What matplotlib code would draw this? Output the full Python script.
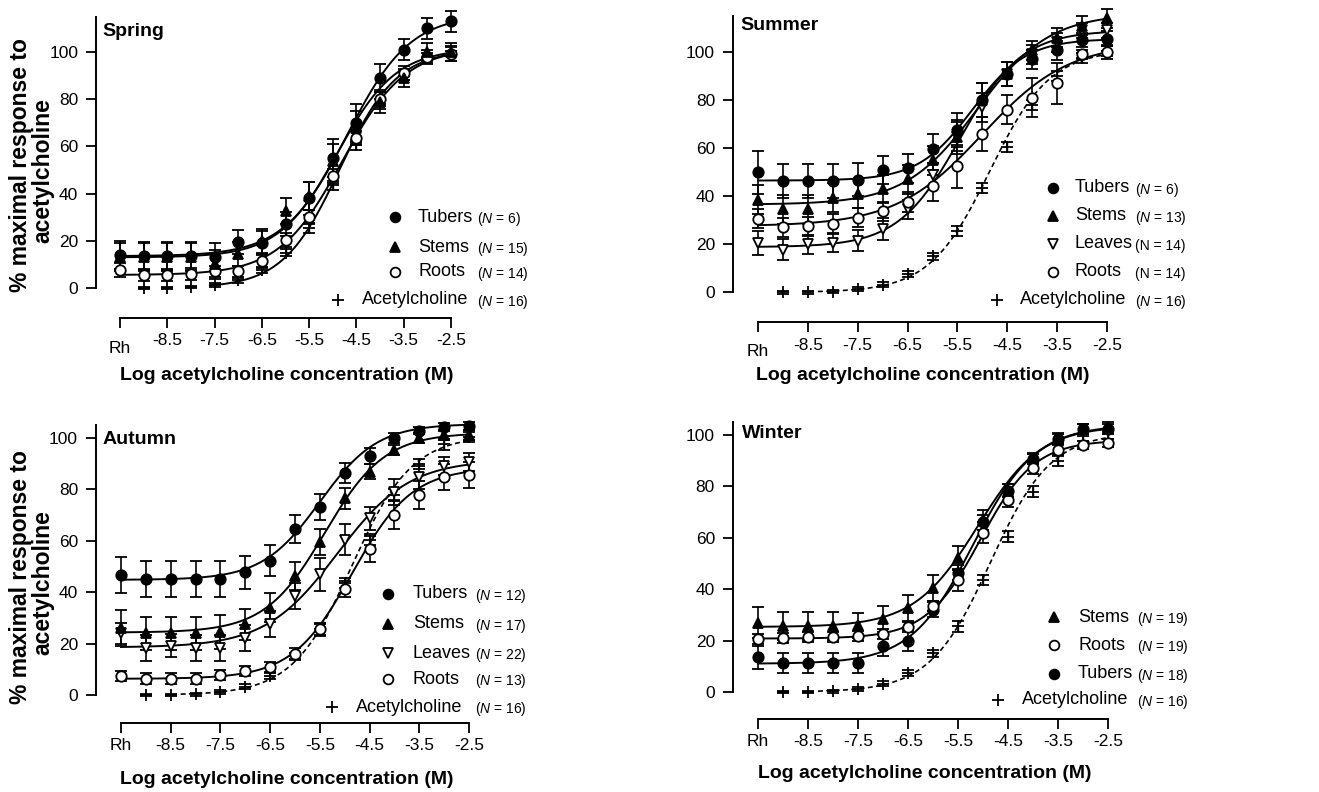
import numpy as np
import matplotlib
matplotlib.use("Agg")
import matplotlib.pyplot as plt
import matplotlib.transforms as mtransforms
from matplotlib.lines import Line2D
from matplotlib import font_manager

installed = {f.name for f in font_manager.fontManager.ttflist}
narrow = "Liberation Sans Narrow" if "Liberation Sans Narrow" in installed else "Liberation Sans"

plt.rcParams["font.family"] = ["Liberation Sans", "DejaVu Sans"]
plt.rcParams["mathtext.fontset"] = "custom"
plt.rcParams["mathtext.rm"] = narrow
plt.rcParams["mathtext.it"] = narrow + ":italic"

# doses (log M); Rh = resting level, drawn at -9.5
doses = [-9.5, -9.0, -8.5, -8.0, -7.5, -7.0, -6.5, -6.0, -5.5, -5.0, -4.5, -4.0, -3.5, -3.0, -2.5]
tick_pos = [-9.5, -8.5, -7.5, -6.5, -5.5, -4.5, -3.5, -2.5]
tick_lab = ["Rh", "-8.5", "-7.5", "-6.5", "-5.5", "-4.5", "-3.5", "-2.5"]

# acetylcholine control (same in every panel), no Rh point
ach_x = doses[1:]
ach_mean = [0, 0, 0.3, 1.2, 3.2, 7.5, 15, 25.5, 43.5, 60.5, 78, 90, 97.5, 100.5]
ach_err = [0.5, 0.5, 0.5, 0.8, 1, 1.2, 1.5, 2, 2, 2, 2, 2, 2, 2]
ach_fit = (0, 101, -4.85, 0.72)  # bottom, top, logEC50, hill

# Spring
spring_tubers = [14, 13.5, 13.5, 13.5, 13, 19.5, 19, 27, 38, 55, 70, 89, 101, 110, 113]
spring_tubers_err = [6, 6, 6, 6, 6, 5, 5, 5, 7, 8, 8, 6, 4.5, 4.5, 4.5]
spring_tubers_fit = (13.5, 116, -4.7, 0.65)
spring_stems = [13, 13, 13, 13, 10, 14.5, 20, 32.5, 39, 54, 68, 79, 89, 100, 100]
spring_stems_err = [6, 6, 6, 6, 6, 5, 5, 5.5, 6, 7, 7, 5, 4, 4, 4]
spring_stems_fit = (13, 101.5, -4.9, 0.7)
spring_roots = [7.5, 5.5, 5.5, 6, 7, 7, 11.5, 20.5, 30, 47.5, 63.5, 80, 91, 98, 99]
spring_roots_err = [3, 2.5, 2.5, 2.5, 2.5, 2.5, 3, 3, 3, 3, 3, 3, 3, 3, 3]
spring_roots_fit = (5.5, 102, -4.8, 0.65)

# Summer
summer_tubers = [50, 46.2, 46.2, 46.2, 46.9, 50.9, 51.6, 59.8, 67.5, 80, 91, 97, 100.7, 105, 105.6]
summer_tubers_err = [9, 7, 7, 7, 7, 6, 6, 6, 7, 7, 5, 4, 4, 3, 3]
summer_tubers_fit = (46.5, 105.5, -5.2, 0.8)
summer_stems = [38.5, 34.5, 34.5, 39.4, 41, 43, 47, 55, 64.7, 80, 91, 100.7, 106, 111, 114]
summer_stems_err = [6, 6, 6, 6, 6, 6, 6, 6, 7, 7, 5, 4, 4, 4, 4]
summer_stems_fit = (36.5, 116, -5.1, 0.6)
summer_leaves = [20.6, 17.8, 19.9, 20.6, 21.5, 26.4, 34.5, 49, 64.7, 77, 91, 99, 104, 109, 109]
summer_leaves_err = [5, 4.5, 4, 4, 4.5, 4.5, 4, 5, 6, 6, 5, 4, 4, 3, 3]
summer_leaves_fit = (18.8, 109, -5.45, 0.7)
summer_roots = [30.6, 27.1, 27.4, 28.4, 31, 33.7, 37.6, 44.4, 52.5, 66, 76, 81, 87, 99, 100]
summer_roots_err = [4, 4, 4, 4, 4, 4, 4, 6.5, 9, 7, 6, 8, 8.5, 2, 3]
summer_roots_fit = (27.5, 104, -5.0, 0.5)

# Autumn
autumn_tubers = [46.6, 45, 45, 45, 45, 47.7, 52.2, 64.5, 73.2, 86.4, 93, 100, 102.9, 104.4, 104.8]
autumn_tubers_err = [7, 7, 7, 7, 7, 6.5, 6, 5.5, 5, 4, 3, 2, 1.5, 1.5, 1.5]
autumn_tubers_fit = (44.8, 105.5, -5.5, 0.75)
autumn_stems = [26.2, 24, 24, 24, 24.5, 27.5, 34, 46.4, 59.4, 76.5, 86.9, 95.3, 99.9, 101.2, 101.2]
autumn_stems_err = [7, 6.5, 6.5, 6.5, 6.5, 6, 5.5, 5.5, 5, 4, 3, 2, 2, 2, 2]
autumn_stems_fit = (24.3, 102, -5.4, 0.72)
autumn_leaves = [24, 18.2, 19.1, 18.2, 18.2, 22.3, 27.5, 38.6, 47, 60.4, 68.7, 79, 84.7, 89.2, 90.5]
autumn_leaves_err = [4, 5, 4.5, 5, 5, 5, 5, 5, 6.5, 6, 4.5, 5, 4.5, 3.5, 3.5]
autumn_leaves_fit = (18.5, 91.5, -5.15, 0.6)
autumn_roots = [7.4, 6.4, 6.4, 6.4, 7.7, 9.2, 11, 16.1, 25.6, 41.2, 56.8, 70, 77.9, 84.9, 85.7]
autumn_roots_err = [2, 2, 2, 2, 2, 2, 2, 2, 2.5, 3, 5, 5.5, 5.5, 5, 5]
autumn_roots_fit = (6.3, 88.5, -4.85, 0.72)

# Winter
winter_stems = [26.9, 25.6, 25.6, 25.6, 25.9, 28.5, 32.8, 40.6, 52.3, 67, 78.3, 90.9, 98.7, 102.3, 103]
winter_stems_err = [6, 5.5, 5.5, 5.5, 5, 5, 5, 5, 4.5, 4, 2.5, 2, 2, 2, 2]
winter_stems_fit = (25.3, 104, -5.1, 0.68)
winter_roots = [20.7, 21.1, 21.5, 21.5, 21.7, 22.6, 25.4, 33.4, 43.4, 62, 74.8, 87, 94.1, 96.2, 96.9]
winter_roots_err = [2, 2, 2, 2, 2, 2, 2, 2, 4, 4, 3, 2, 2, 1.5, 1.5]
winter_roots_fit = (20.8, 98, -5.05, 0.8)
winter_tubers = [13.5, 11.3, 11.3, 11.3, 11.3, 18, 20, 32, 46.4, 66, 78.3, 90.6, 98.4, 102.3, 102.3]
winter_tubers_err = [4.5, 4, 4, 4, 4, 4, 4, 3, 3, 3, 2.5, 2, 2, 2, 2]
winter_tubers_fit = (11, 103.5, -5.2, 0.7)

W, H = 1319, 792
fig = plt.figure(figsize=(W / 100, H / 100), dpi=100)

STYLE = {"Tubers": ("o", "black"), "Stems": ("^", "black"),
         "Leaves": ("v", "white"), "Roots": ("o", "white")}
LEG_FS = 13
N_FS = 10


def hill(x, p):
    b, t, e, n = p
    return b + (t - b) / (1 + 10 ** ((e - x) * n))


def fx(px):
    return px / W


def fy(py):
    return 1 - py / H


def make_axes(xr, xe, y0, y100, xaxis_at, ytop, rh_drop):
    # place axes so that Rh/-2.5 and 0/100 land on given pixels
    sx = (xe - xr) / 7.0
    sy = (y0 - y100) / 100.0
    xlim = (-10.0, -2.2)
    ylim = (xaxis_at, ytop + 2)
    left = xr + (xlim[0] + 9.5) * sx
    right = xr + (xlim[1] + 9.5) * sx
    top = y0 - ylim[1] * sy
    bot = y0 - ylim[0] * sy
    ax = fig.add_axes([fx(left), fy(bot), (right - left) / W, (bot - top) / H])
    ax.set_xlim(*xlim)
    ax.set_ylim(*ylim)
    ax.patch.set_alpha(0)
    for s in ["top", "right"]:
        ax.spines[s].set_visible(False)
    ax.spines["left"].set_bounds(0, ytop)
    ax.spines["bottom"].set_bounds(-9.5, -2.5)
    for s in ["left", "bottom"]:
        ax.spines[s].set_linewidth(1.4)
    ax.set_xticks(tick_pos)
    ax.set_xticklabels(tick_lab)
    ax.set_yticks([0, 20, 40, 60, 80, 100])
    ax.tick_params(direction="out", length=7, width=1.3, labelsize=12.5, pad=6)
    ax.tick_params(axis="x", pad=4)
    # Rh label sits a little lower than the others
    lab = ax.xaxis.get_major_ticks()[0].label1
    lab.set_transform(lab.get_transform() +
                      mtransforms.ScaledTranslation(0, -rh_drop / 100, fig.dpi_scale_trans))
    return ax


def draw_series(ax, mean, err, fit, name):
    marker, face = STYLE[name]
    xs = np.linspace(-9.5, -2.5, 300)
    ax.plot(xs, hill(xs, fit), color="black", lw=1.4, zorder=2)
    ax.errorbar(doses, mean, yerr=err, fmt=marker, ms=7.5, mfc=face, mec="black",
                mew=1.3, ecolor="black", elinewidth=1.2, capsize=4, capthick=1.2,
                clip_on=False, zorder=3)


def draw_ach(ax, dashed):
    start = -8.3 if dashed else -7.6
    xs = np.linspace(start, -2.5, 300)
    ax.plot(xs, hill(xs, ach_fit), color="black", lw=1.2 if dashed else 1.4,
            ls=(0, (3, 2)) if dashed else "-", zorder=2)
    ax.errorbar(ach_x, ach_mean, yerr=ach_err, fmt="+", ms=8, mec="black", mew=1.3,
                ecolor="black", elinewidth=1.0, capsize=4, capthick=1.0,
                clip_on=False, zorder=3)


def legend(rows, xm, xt, xn, ach_pos):
    for name, n, ital, y in rows:
        marker, face = STYLE[name]
        fig.add_artist(Line2D([fx(xm)], [fy(y)], marker=marker, ms=7, mfc=face,
                              mec="black", mew=1.3, ls="none", transform=fig.transFigure))
        fig.text(fx(xt), fy(y), name, fontsize=LEG_FS, family=narrow, va="center")
        ntxt = "($\\mathit{N}$ = %s)" % n if ital else "(N = %s)" % n
        fig.text(fx(xn), fy(y + 2), ntxt, fontsize=N_FS, family=narrow, va="center")
    axm, axt, ay = ach_pos
    fig.add_artist(Line2D([fx(axm)], [fy(ay)], marker="+", ms=8, mec="black", mew=1.3,
                          ls="none", transform=fig.transFigure))
    fig.text(fx(axt), fy(ay), "Acetylcholine", fontsize=LEG_FS, family=narrow, va="center")
    fig.text(fx(xn), fy(ay + 2), "($\\mathit{N}$ = 16)", fontsize=N_FS, family=narrow,
             va="center")


def ylabel(yc):
    fig.text(fx(21), fy(yc), "% maximal response to", fontsize=16.5, weight="bold",
             rotation=90, ha="center", va="center")
    fig.text(fx(43), fy(yc + 6), "acetylcholine", fontsize=16.5, weight="bold",
             rotation=90, ha="center", va="center")


xlab = "Log acetylcholine concentration (M)"

# ---- Spring
ax = make_axes(120, 451, 288, 52, -12.7, 115, 8)
draw_ach(ax, dashed=False)
draw_series(ax, spring_roots, spring_roots_err, spring_roots_fit, "Roots")
draw_series(ax, spring_stems, spring_stems_err, spring_stems_fit, "Stems")
draw_series(ax, spring_tubers, spring_tubers_err, spring_tubers_fit, "Tubers")
fig.text(fx(102), fy(32), "Spring", fontsize=14, weight="bold", va="center")
legend([("Tubers", "6", True, 217), ("Stems", "15", True, 247), ("Roots", "14", True, 272)],
       395, 418, 477, (338, 362, 300))
fig.text(fx(287), fy(375), xlab, fontsize=14, weight="bold", ha="center", va="center")
ylabel(165)

# ---- Summer
ax = make_axes(758, 1107, 292.3, 52, -12.5, 115, 6)
draw_ach(ax, dashed=True)
draw_series(ax, summer_leaves, summer_leaves_err, summer_leaves_fit, "Leaves")
draw_series(ax, summer_roots, summer_roots_err, summer_roots_fit, "Roots")
draw_series(ax, summer_stems, summer_stems_err, summer_stems_fit, "Stems")
draw_series(ax, summer_tubers, summer_tubers_err, summer_tubers_fit, "Tubers")
fig.text(fx(740), fy(26), "Summer", fontsize=14, weight="bold", va="center")
legend([("Tubers", "6", True, 188), ("Stems", "13", True, 216),
        ("Leaves", "14", False, 244), ("Roots", "14", False, 272)],
       1053, 1075, 1135, (997, 1020, 300))
fig.text(fx(923), fy(375), xlab, fontsize=14, weight="bold", ha="center", va="center")

# ---- Autumn
ax = make_axes(121, 469, 695, 438, -10.9, 105, 0)
draw_ach(ax, dashed=True)
draw_series(ax, autumn_roots, autumn_roots_err, autumn_roots_fit, "Roots")
draw_series(ax, autumn_leaves, autumn_leaves_err, autumn_leaves_fit, "Leaves")
draw_series(ax, autumn_stems, autumn_stems_err, autumn_stems_fit, "Stems")
draw_series(ax, autumn_tubers, autumn_tubers_err, autumn_tubers_fit, "Tubers")
fig.text(fx(103), fy(439), "Autumn", fontsize=14, weight="bold", va="center")
legend([("Tubers", "12", True, 594), ("Stems", "17", True, 624),
        ("Leaves", "22", True, 653), ("Roots", "13", True, 679)],
       388, 413, 475, (332, 356, 707))
fig.text(fx(287), fy(779), xlab, fontsize=14, weight="bold", ha="center", va="center")
ylabel(577)

# ---- Winter
ax = make_axes(758, 1108, 692, 435, -10.5, 105, 0)
draw_ach(ax, dashed=True)
draw_series(ax, winter_tubers, winter_tubers_err, winter_tubers_fit, "Tubers")
draw_series(ax, winter_roots, winter_roots_err, winter_roots_fit, "Roots")
draw_series(ax, winter_stems, winter_stems_err, winter_stems_fit, "Stems")
fig.text(fx(742), fy(434), "Winter", fontsize=14, weight="bold", va="center")
legend([("Stems", "19", True, 617), ("Roots", "19", True, 645), ("Tubers", "18", True, 674)],
       1054, 1078, 1137, (998, 1022, 700))
fig.text(fx(925), fy(774), xlab, fontsize=14, weight="bold", ha="center", va="center")

fig.savefig("out.png", dpi=100)
